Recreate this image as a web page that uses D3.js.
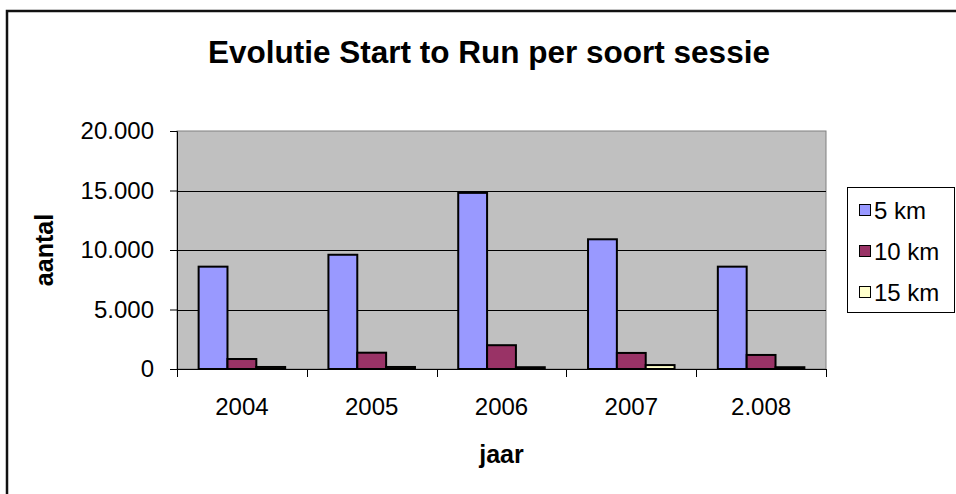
<!DOCTYPE html>
<html>
<head>
<meta charset="utf-8">
<script src="https://cdn.jsdelivr.net/npm/d3@7"></script>
<style>
  body { margin: 0; background: #fff; }
  svg { display: block; font-family: "Liberation Sans", Arial, sans-serif; }
</style>
</head>
<body>
<svg></svg>
<script>
var width = 956;
var height = 494;

// data
var jaren = ["2004", "2005", "2006", "2007", "2.008"];
var sessies = ["5 km", "10 km", "15 km"];
var km5 = [8600, 9600, 14800, 10900, 8600];
var km10 = [840, 1370, 2000, 1350, 1180];
var km15 = [170, 170, 150, 330, 150];
var yTicks = [0, 5000, 10000, 15000, 20000];

var kleuren = ["#9999FF", "#993366", "#FFFFCC"];
var reeksen = [km5, km10, km15];

var plot = {left: 177, right: 826, top: 131, bottom: 369};

var svg = d3.select("svg")
    .attr("width", width)
    .attr("height", height);

svg.append("rect")
    .attr("width", width)
    .attr("height", height)
    .attr("fill", "#fff");

// chart border (runs off the right and bottom edge)
svg.append("rect")
    .attr("x", 7)
    .attr("y", 11)
    .attr("width", 1000)
    .attr("height", 600)
    .attr("fill", "none")
    .attr("stroke", "#111")
    .attr("stroke-width", 2.5);

var nl = d3.formatLocale({decimal: ",", thousands: ".", grouping: [3], currency: ["", "€"]});
var fmt = nl.format(",d");

var x = d3.scaleBand()
    .domain(jaren)
    .range([plot.left, plot.right]);

var xs = d3.scaleBand()
    .domain(sessies)
    .range([0, x.bandwidth()])
    .paddingInner(0)
    .paddingOuter(0.75);

var y = d3.scaleLinear()
    .domain([0, 20000])
    .range([plot.bottom, plot.top]);

// plot area
svg.append("rect")
    .attr("x", plot.left)
    .attr("y", plot.top)
    .attr("width", plot.right - plot.left)
    .attr("height", plot.bottom - plot.top)
    .attr("fill", "#C0C0C0")
    .attr("stroke", "#808080")
    .attr("stroke-width", 1);

// gridlines
svg.append("g")
  .selectAll("line")
  .data(yTicks.filter(function(d) { return d > 0 && d < 20000; }))
  .enter().append("line")
    .attr("x1", plot.left)
    .attr("x2", plot.right)
    .attr("y1", function(d) { return Math.round(y(d)) + 0.5; })
    .attr("y2", function(d) { return Math.round(y(d)) + 0.5; })
    .attr("stroke", "#000")
    .attr("stroke-width", 1);

// bars
var rows = [];
jaren.forEach(function(j, i) {
  sessies.forEach(function(s, k) {
    rows.push({jaar: j, sessie: s, value: reeksen[k][i], kleur: kleuren[k]});
  });
});

svg.append("g")
  .selectAll("rect")
  .data(rows)
  .enter().append("rect")
    .attr("x", function(d) { return x(d.jaar) + xs(d.sessie); })
    .attr("y", function(d) { return y(d.value); })
    .attr("width", xs.bandwidth())
    .attr("height", function(d) { return y(0) - y(d.value); })
    .attr("fill", function(d) { return d.kleur; })
    .attr("stroke", "#000")
    .attr("stroke-width", 2);

// y axis
var yAxis = svg.append("g")
    .attr("transform", "translate(" + plot.left + ",0)")
    .call(d3.axisLeft(y).tickValues(yTicks).tickFormat(fmt).tickSize(7).tickPadding(16));
yAxis.selectAll("text").attr("font-size", 24).attr("fill", "#000")
    .style("font-family", "'Liberation Sans', Arial, sans-serif");
yAxis.selectAll("line, path").attr("stroke", "#000");

// x axis
var xAxis = svg.append("g")
    .attr("transform", "translate(0," + plot.bottom + ")")
    .call(d3.axisBottom(x).tickSize(0).tickPadding(29));
xAxis.selectAll("text").attr("font-size", 24).attr("fill", "#000")
    .style("font-family", "'Liberation Sans', Arial, sans-serif");
xAxis.select("path").attr("stroke", "#000");

var grenzen = jaren.map(function(j) { return x(j); }).concat([plot.right]);
xAxis.selectAll(".grens")
  .data(grenzen)
  .enter().append("line")
    .attr("class", "grens")
    .attr("x1", function(d) { return Math.round(d) + 0.5; })
    .attr("x2", function(d) { return Math.round(d) + 0.5; })
    .attr("y1", 0)
    .attr("y2", 8)
    .attr("stroke", "#000");

// titles
svg.append("text")
    .attr("x", 489)
    .attr("y", 63)
    .attr("text-anchor", "middle")
    .attr("font-size", 31.5)
    .attr("font-weight", "bold")
    .text("Evolutie Start to Run per soort sessie");

svg.append("text")
    .attr("transform", "translate(53," + ((plot.top + plot.bottom) / 2) + ") rotate(-90)")
    .attr("text-anchor", "middle")
    .attr("font-size", 25)
    .attr("font-weight", "bold")
    .text("aantal");

svg.append("text")
    .attr("x", (plot.left + plot.right) / 2)
    .attr("y", 463)
    .attr("text-anchor", "middle")
    .attr("font-size", 25)
    .attr("font-weight", "bold")
    .text("jaar");

// legend
var legend = svg.append("g");
legend.append("rect")
    .attr("x", 847.5)
    .attr("y", 187.5)
    .attr("width", 107)
    .attr("height", 125)
    .attr("fill", "#fff")
    .attr("stroke", "#000");

var item = legend.selectAll(".item")
  .data(sessies)
  .enter().append("g")
    .attr("class", "item")
    .attr("transform", function(d, i) { return "translate(0," + (210 + i * 41) + ")"; });

item.append("rect")
    .attr("x", 859.5)
    .attr("y", -5.5)
    .attr("width", 11)
    .attr("height", 11)
    .attr("fill", function(d, i) { return kleuren[i]; })
    .attr("stroke", "#000");

item.append("text")
    .attr("x", 874)
    .attr("y", 8.5)
    .attr("font-size", 24)
    .text(function(d) { return d; });
</script>
</body>
</html>
